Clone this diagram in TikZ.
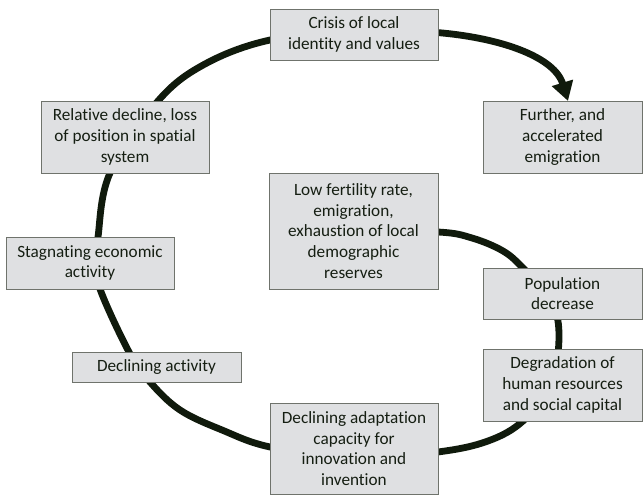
\documentclass[tikz,border=0pt]{standalone}
\usepackage{fontspec}
\setmainfont[Ligatures=NoCommon]{Carlito}
\usetikzlibrary{arrows.meta,backgrounds}
\definecolor{boxfill}{HTML}{DFE0E2}
\definecolor{boxline}{HTML}{6F736C}
\definecolor{spiral}{HTML}{101A0C}
\definecolor{txt}{HTML}{151E12}
\begin{document}
\begin{tikzpicture}[x=1pt,y=-1pt,
  box/.style={draw=boxline, line width=0.9pt, fill=boxfill, text=txt,
    align=center, inner sep=0pt, font=\fontsize{17.2}{20.8}\selectfont},
  spiralline/.style={draw=spiral, line width=6.8pt,
    -{Triangle[length=19pt,width=21pt]}}
]
\useasboundingbox (0,0) rectangle (643,495);

\node[box, minimum width=168pt, minimum height=51pt] (crisis) at (354,34.5)
  {Crisis of local\\identity and values};
\node[box, minimum width=159pt, minimum height=72pt] (further) at (562.5,137)
  {Further, and\\accelerated\\emigration};
\node[box, minimum width=168pt, minimum height=72pt] (relative) at (125,137)
  {Relative decline, loss\\of position in spatial\\system};
\node[box, minimum width=169pt, minimum height=116pt] (lowfert) at (353.5,231)
  {Low fertility rate,\\emigration,\\exhaustion of local\\demographic\\reserves};
\node[box, minimum width=168pt, minimum height=52pt] (stagnating) at (90,263)
  {Stagnating economic\\activity};
\node[box, minimum width=159pt, minimum height=51pt] (population) at (562.5,293.5)
  {Population\\decrease};
\node[box, minimum width=169pt, minimum height=30pt] (declact) at (156.5,367)
  {Declining activity};
\node[box, minimum width=159pt, minimum height=72pt] (degradation) at (562.5,385)
  {Degradation of\\human resources\\and social capital};
\node[box, minimum width=168pt, minimum height=91pt] (adaptation) at (354,448.5)
  {Declining adaptation\\capacity for\\innovation and\\invention};

\coordinate (tip) at (568,101);

\begin{scope}[on background layer]
\fill[white] (0,0) rectangle (643,495);
\draw[spiralline]
  plot[smooth, tension=0.6] coordinates {
    (lowfert.center) (438,232) (472,238) (503,251) (523,268)
    (550,298) (559,334) (551,385) (523,421) (488,441) (438,452)
    (354,459) (270,447) (222,430) (180,410) (150,382) (129,352)
    (100,289) (97,262) (98,237) (110,173) (158,101) (205,64)
    (270,40) (354,31) (400,31)}
  .. controls (480,31) and (553,52) .. (tip);
\end{scope}
\end{tikzpicture}
\end{document}
